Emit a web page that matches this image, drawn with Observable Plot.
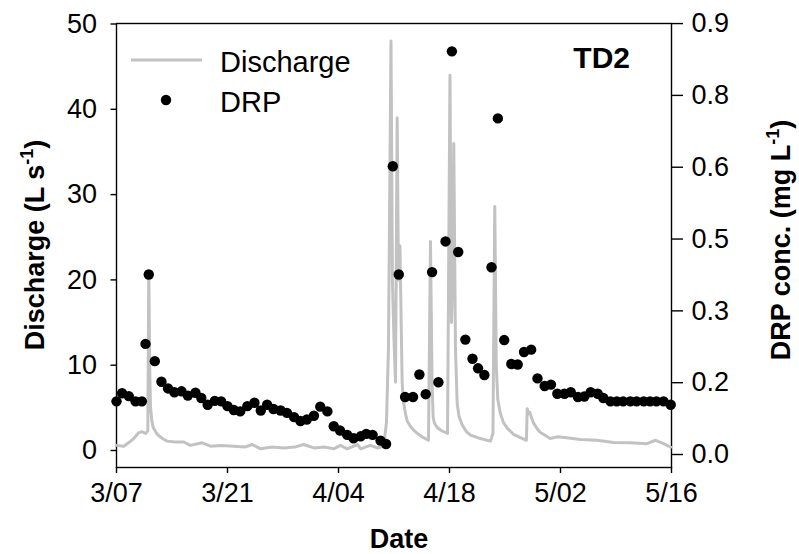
<!DOCTYPE html>
<html>
<head>
<meta charset="utf-8">
<script src="https://cdn.jsdelivr.net/npm/d3@7"></script>
<script src="https://cdn.jsdelivr.net/npm/@observablehq/plot@0.6"></script>
<style>
  html, body { margin: 0; padding: 0; background: white; }
  #chart svg { display: block; }
</style>
</head>
<body>
<div id="chart"></div>
<script>
// ---- Data (days since 3/07) ----
const startDate = Date.UTC(2013, 2, 7);

// Discharge (L s-1) line
const qDays = [0, 0.92, 1.5, 2.18, 2.81, 3.24, 3.66, 3.95, 4.07, 4.2, 4.29, 4.45, 4.63, 5.13, 5.8, 6.39, 7.4, 8.49, 9.33, 10.8, 11.86, 13.2, 14.8, 16.2, 17.1, 18.2, 19.6, 21.1, 22.5, 23.6, 24.9, 26.2, 27.4, 28.25, 29.1, 30.4, 30.8, 32.0, 32.9, 33.7, 34.05, 34.3, 34.62, 34.8, 35.0, 35.19, 35.4, 35.56, 35.75, 36.03, 36.13, 36.23, 36.45, 36.66, 37.08, 37.46, 38.09, 38.72, 39.35, 39.6, 39.8, 39.94, 40.1, 40.45, 40.85, 41.28, 41.75, 42.06, 42.25, 42.38, 42.54, 42.75, 42.97, 43.2, 43.6, 44.14, 44.65, 45.9, 47.17, 47.48, 47.71, 47.9, 48.09, 48.4, 48.79, 49.3, 50.07, 50.95, 51.7, 51.8, 51.95, 52.1, 52.6, 53.1, 53.47, 54.7, 55.6, 56.8, 58.5, 60.6, 62.7, 64.8, 66.9, 68.0, 69.0, 69.9];
const qValues = [0.6, 0.5, 0.9, 1.4, 2.1, 2.2, 2.0, 2.3, 21, 9, 5.1, 3.5, 2.7, 1.9, 1.4, 1.1, 1.0, 1.0, 0.6, 0.9, 0.5, 0.6, 0.5, 0.4, 0.7, 0.2, 0.4, 0.3, 0.4, 0.7, 0.3, 0.4, 0.2, 0.6, 0.2, 0.7, 0.2, 0.6, 0.3, 0.5, 3.3, 12, 48, 20, 13, 8, 39, 20, 24, 8, 6.5, 5.5, 4.3, 3.5, 2.8, 2.4, 1.9, 1.5, 1.2, 24.5, 8, 3.9, 3.2, 2.7, 2.4, 2.2, 2.0, 44, 15, 20, 36, 12, 5.5, 4.0, 3.0, 2.2, 1.8, 1.4, 1.1, 2, 28.6, 10, 6, 4.4, 3.3, 2.6, 1.9, 1.5, 1.2, 4.9, 4.3, 4.5, 3.2, 2.5, 2.1, 1.4, 1.6, 1.5, 1.3, 1.2, 0.94, 0.9, 0.8, 1.2, 0.8, 0.4];

// DRP conc. (mg L-1) points
const drpDays = [0, 0.7, 1.55, 2.4, 3.2, 3.66, 4.07, 4.83, 5.67, 6.5, 7.3, 8.2, 9.0, 9.96, 10.7, 11.5, 12.4, 13.2, 14.0, 14.8, 15.6, 16.5, 17.4, 18.2, 19.0, 19.8, 20.7, 21.5, 22.4, 23.2, 24.0, 24.9, 25.7, 26.6, 27.4, 28.2, 29.1, 29.9, 30.8, 31.5, 32.3, 33.3, 34.0, 34.85, 35.6, 36.4, 37.4, 38.2, 39.0, 39.8, 40.6, 41.5, 42.3, 43.1, 44.0, 44.9, 45.6, 46.4, 47.3, 48.1, 48.9, 49.8, 50.6, 51.4, 52.3, 53.1, 54.0, 54.8, 55.6, 56.5, 57.3, 58.2, 59.0, 59.8, 60.7, 61.4, 62.3, 63.1, 63.9, 64.8, 65.6, 66.5, 67.3, 68.1, 69.0, 69.9];
const drpValues = [0.111, 0.128, 0.122, 0.111, 0.111, 0.231, 0.376, 0.195, 0.152, 0.138, 0.130, 0.132, 0.123, 0.129, 0.118, 0.104, 0.112, 0.111, 0.101, 0.093, 0.090, 0.101, 0.108, 0.092, 0.104, 0.095, 0.092, 0.087, 0.078, 0.070, 0.073, 0.081, 0.100, 0.090, 0.059, 0.050, 0.041, 0.034, 0.038, 0.043, 0.041, 0.029, 0.022, 0.602, 0.376, 0.120, 0.120, 0.167, 0.126, 0.381, 0.151, 0.445, 0.842, 0.423, 0.240, 0.200, 0.180, 0.166, 0.391, 0.702, 0.239, 0.189, 0.188, 0.214, 0.219, 0.159, 0.143, 0.146, 0.127, 0.127, 0.130, 0.120, 0.121, 0.130, 0.127, 0.118, 0.111, 0.111, 0.111, 0.111, 0.111, 0.111, 0.111, 0.111, 0.111, 0.104];

// Axis ticks
const xTickDays = [0, 14, 28, 42, 56, 70];
const xTickLabels = ["3/07", "3/21", "4/04", "4/18", "5/02", "5/16"];
const qTicks = [0, 10, 20, 30, 40, 50];
const drpTicks = [0, 0.15, 0.3, 0.45, 0.6, 0.75, 0.9];
const drpTickLabels = ["0.0", "0.2", "0.3", "0.5", "0.6", "0.8", "0.9"];

// ---- Build ----
const toDate = d => new Date(startDate + d * 864e5);
const qData = qDays.map((d, i) => ({date: toDate(d), q: qValues[i]}));
const drpData = drpDays.map((d, i) => ({date: toDate(d), drp: drpValues[i]}));
const xTicks = xTickDays.map(toDate);

// secondary (right) axis expressed in left-axis units
const drpToQ = d3.scaleLinear().domain([0, 0.9]).range([-0.47, 50.05]);
const drpTickQ = drpTicks.map(drpToQ);

const FONT = "'Liberation Sans', Arial, Helvetica, sans-serif";
const GRAY = "#c2c2c2";
const R = 5.2;

const plot = Plot.plot({
  width: 799,
  height: 554,
  marginLeft: 116,
  marginRight: 128,
  marginTop: 23,
  marginBottom: 87,
  style: {fontFamily: FONT, background: "white", color: "black"},
  x: {type: "utc", domain: [toDate(0), toDate(70)]},
  y: {domain: [0, 50], range: [450, 23.5]},
  marks: [
    Plot.frame({stroke: "black", strokeWidth: 1.4}),
    Plot.axisX({ticks: xTicks, tickSize: 6, tickPadding: 9, fontSize: 27, label: null, strokeWidth: 1.4,
      tickFormat: d => xTickLabels[d3.minIndex(xTicks, t => Math.abs(t - d))]}),
    Plot.axisY({anchor: "left", ticks: qTicks, tickSize: 5.5, tickPadding: 14, fontSize: 27, label: null, strokeWidth: 1.4,
      tickFormat: d => String(d)}),
    Plot.axisY({anchor: "right", ticks: drpTickQ, tickSize: 11, tickPadding: 9, fontSize: 27, label: null, strokeWidth: 1.4,
      tickFormat: q => drpTickLabels[d3.minIndex(drpTickQ, t => Math.abs(t - q))]}),
    Plot.line(qData, {x: "date", y: "q", stroke: GRAY, strokeWidth: 3, strokeLinejoin: "round"}),
    Plot.dot(drpData, {x: "date", y: d => drpToQ(d.drp), r: R, fill: "black", stroke: "none"})
  ]
});

const svg = d3.select(plot);

// Axis titles
const left = svg.append("text")
  .attr("transform", "translate(44,245) rotate(-90)")
  .attr("text-anchor", "middle")
  .attr("font-family", FONT).attr("font-weight", "bold").attr("font-size", 27).attr("fill", "black");
left.append("tspan").text("Discharge (L s");
left.append("tspan").attr("dy", -11).attr("font-size", 18).text("-1");
left.append("tspan").attr("dy", 11).text(")");

const right = svg.append("text")
  .attr("transform", "translate(790,240) rotate(-90)")
  .attr("text-anchor", "middle")
  .attr("font-family", FONT).attr("font-weight", "bold").attr("font-size", 27).attr("fill", "black");
right.append("tspan").text("DRP conc. (mg L");
right.append("tspan").attr("dy", -11).attr("font-size", 18).text("-1");
right.append("tspan").attr("dy", 11).text(")");

svg.append("text")
  .attr("x", 399).attr("y", 548)
  .attr("text-anchor", "middle")
  .attr("font-family", FONT).attr("font-weight", "bold").attr("font-size", 27).attr("fill", "black")
  .text("Date");

// Panel label
svg.append("text")
  .attr("x", 630).attr("y", 68)
  .attr("text-anchor", "end")
  .attr("font-family", FONT).attr("font-weight", "bold").attr("font-size", 30).attr("fill", "black")
  .text("TD2");

// Legend
svg.append("line").attr("x1", 131).attr("x2", 202).attr("y1", 60).attr("y2", 60)
  .attr("stroke", GRAY).attr("stroke-width", 3.2);
svg.append("text").attr("x", 220).attr("y", 71.5).attr("text-anchor", "start")
  .attr("font-family", FONT).attr("font-size", 29).attr("fill", "black").text("Discharge");
svg.append("circle").attr("cx", 166).attr("cy", 100).attr("r", R).attr("fill", "black");
svg.append("text").attr("x", 220).attr("y", 111.5).attr("text-anchor", "start")
  .attr("font-family", FONT).attr("font-size", 29).attr("fill", "black").text("DRP");

document.getElementById("chart").appendChild(plot);
</script>
</body>
</html>
